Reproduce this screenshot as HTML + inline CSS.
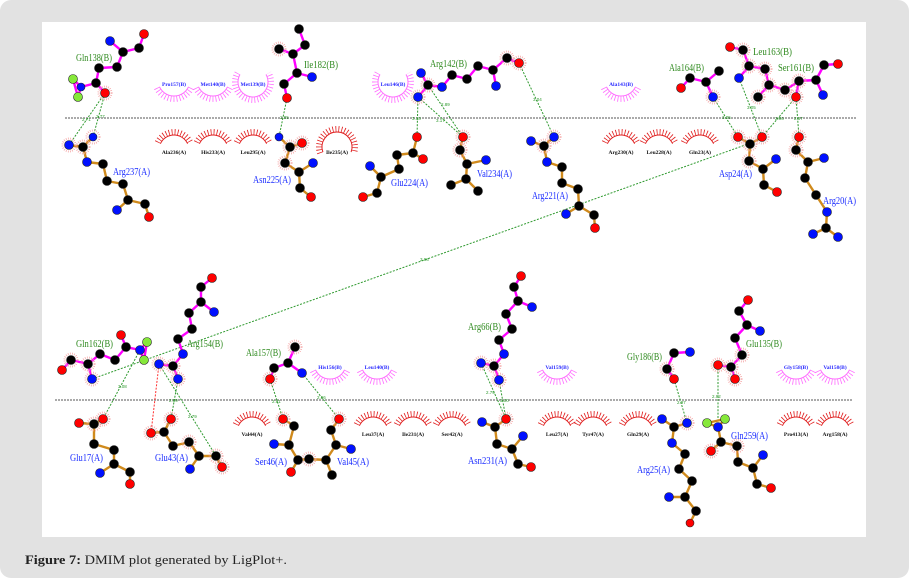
<!DOCTYPE html>
<html><head><meta charset="utf-8"><style>
html,body{margin:0;padding:0;background:#fff;}
body{width:909px;height:582px;overflow:hidden;}
svg{display:block;}
.bm{fill:none;stroke:#ff00ff;stroke-width:2.4;stroke-linejoin:round;stroke-linecap:round}
.bo{fill:none;stroke:#d08a1c;stroke-width:2.4;stroke-linejoin:round;stroke-linecap:round}
.k{fill:#000}.b{fill:#0010ff}.r{fill:#ff0000}.g{fill:#86e83a}
circle.a{stroke:#222;stroke-width:0.6}
.hb{stroke:#2f9a2f;stroke-width:1;stroke-dasharray:2 1.4;fill:none}
.hl{font-family:"Liberation Sans",sans-serif;font-size:4.5px;fill:#2f9a2f}
.lg{font-family:"Liberation Serif",serif;font-size:10px;fill:#2f8a1f}
.la{font-family:"Liberation Serif",serif;font-size:10px;fill:#1a2cff}
.sp{font-family:"Liberation Serif",serif;font-size:5.5px;font-weight:bold;fill:#2a2aff}
.sr{font-family:"Liberation Serif",serif;font-size:5.5px;font-weight:bold;fill:#111}
.halo{fill:none;stroke:#f4a2a2;stroke-width:2;stroke-dasharray:0.7 1.4}
</style></head><body>
<svg width="909" height="582" viewBox="0 0 909 582" xmlns="http://www.w3.org/2000/svg">
<defs>
<g id="pa">
<path d="M-14.5,2.8 A16 16 0 0 0 14.5,2.8" fill="none" stroke="#ff70ff" stroke-width="1"/>
<path d="M-17.2,4.0 A19 19 0 0 0 17.2,4.0" fill="none" stroke="#ff70ff" stroke-width="6" stroke-dasharray="0.8 2.2"/>
</g>
<g id="pa2">
<path d="M-13,-9.5 A15 15 0 1 0 13,-9.5" fill="none" stroke="#ff70ff" stroke-width="1"/>
<path d="M-15.6,-11 A18 18 0 1 0 15.6,-11" fill="none" stroke="#ff70ff" stroke-width="6" stroke-dasharray="0.8 2.2"/>
</g>
<g id="ra">
<path d="M-13.6,-8.3 A15 15 0 0 1 13.6,-8.3" fill="none" stroke="#e02020" stroke-width="1"/>
<path d="M-16.3,-9.6 A18 18 0 0 1 16.3,-9.6" fill="none" stroke="#e02020" stroke-width="6" stroke-dasharray="0.8 2.2"/>
</g>
<g id="ra2">
<path d="M-14.1,0.1 A15 15 0 1 1 14.1,0.1" fill="none" stroke="#e02020" stroke-width="1"/>
<path d="M-16.9,1.2 A18 18 0 1 1 16.9,1.2" fill="none" stroke="#e02020" stroke-width="6" stroke-dasharray="0.8 2.2"/>
</g>
</defs>
<rect x="0" y="0" width="909" height="578" rx="11" fill="#e2e2e2"/>
<rect x="42" y="22" width="824" height="515" fill="#fff"/>

<!-- interface lines -->
<line x1="65" y1="118" x2="857" y2="118" stroke="#555" stroke-width="1" stroke-dasharray="2 1"/>
<line x1="55" y1="400" x2="853" y2="400" stroke="#555" stroke-width="1" stroke-dasharray="2 1"/>

<!-- hydrophobic arcs -->
<use href="#pa" x="174" y="84"/><use href="#pa" x="213" y="84"/><use href="#pa2" x="253" y="84"/>
<use href="#pa2" x="393" y="84"/><use href="#pa" x="621" y="84"/>
<use href="#ra" x="174" y="152"/><use href="#ra" x="213" y="152"/><use href="#ra" x="253" y="152"/>
<use href="#ra2" x="337" y="152"/><use href="#ra" x="621" y="152"/><use href="#ra" x="659" y="152"/><use href="#ra" x="700" y="152"/>
<use href="#pa" x="330" y="367"/><use href="#pa" x="377" y="367"/><use href="#pa" x="557" y="367"/>
<use href="#pa" x="796" y="367"/><use href="#pa" x="835" y="367"/>
<use href="#ra" x="252" y="434"/><use href="#ra" x="373" y="434"/><use href="#ra" x="413" y="434"/><use href="#ra" x="452" y="434"/>
<use href="#ra" x="557" y="434"/><use href="#ra" x="593" y="434"/><use href="#ra" x="638" y="434"/>
<use href="#ra" x="796" y="434"/><use href="#ra" x="835" y="434"/>

<g text-anchor="middle">
<text class="sp" x="174" y="86">Pro157(B)</text><text class="sp" x="213" y="86">Met140(B)</text>
<text class="sp" x="253" y="86">Met139(B)</text><text class="sp" x="393" y="86">Leu146(B)</text>
<text class="sp" x="621" y="86">Ala143(B)</text>
<text class="sr" x="174" y="154">Ala236(A)</text><text class="sr" x="213" y="154">His233(A)</text>
<text class="sr" x="253" y="154">Leu295(A)</text><text class="sr" x="337" y="154">Ile235(A)</text>
<text class="sr" x="621" y="154">Arg230(A)</text><text class="sr" x="659" y="154">Leu228(A)</text>
<text class="sr" x="700" y="154">Gln23(A)</text>
<text class="sp" x="330" y="369">His156(B)</text><text class="sp" x="377" y="369">Leu140(B)</text>
<text class="sp" x="557" y="369">Val159(B)</text><text class="sp" x="796" y="369">Gly158(B)</text>
<text class="sp" x="835" y="369">Val150(B)</text>
<text class="sr" x="252" y="436">Val44(A)</text><text class="sr" x="373" y="436">Leu37(A)</text>
<text class="sr" x="413" y="436">Ile231(A)</text><text class="sr" x="452" y="436">Ser42(A)</text>
<text class="sr" x="557" y="436">Leu27(A)</text><text class="sr" x="593" y="436">Tyr47(A)</text>
<text class="sr" x="638" y="436">Gln29(A)</text><text class="sr" x="796" y="436">Pro413(A)</text>
<text class="sr" x="835" y="436">Arg158(A)</text>
</g>

<!-- hydrogen bonds -->
<g class="hb">
<line x1="105" y1="93" x2="69" y2="145"/><line x1="105" y1="93" x2="93" y2="137"/>
<line x1="287" y1="98" x2="279" y2="137"/>
<line x1="418" y1="97" x2="417" y2="137"/><line x1="418" y1="97" x2="463" y2="137"/>
<line x1="428" y1="85" x2="463" y2="137"/><line x1="519" y1="63" x2="554" y2="137"/>
<line x1="713" y1="97" x2="738" y2="137"/><line x1="739" y1="78" x2="762" y2="137"/>
<line x1="796" y1="97" x2="762" y2="137"/><line x1="796" y1="97" x2="799" y2="137"/>
<line x1="92" y1="379" x2="748" y2="144"/>
<line x1="140" y1="350" x2="103" y2="419"/><line x1="178" y1="379" x2="171" y2="419"/>
<line x1="159" y1="364" x2="216" y2="456"/>
<line x1="270" y1="379" x2="283" y2="419"/><line x1="302" y1="373" x2="339" y2="419"/>
<line x1="481" y1="363" x2="506" y2="419"/><line x1="499" y1="380" x2="506" y2="419"/>
<line x1="674" y1="379" x2="687" y2="423"/><line x1="718" y1="365" x2="718" y2="427"/>
</g>
<line x1="159" y1="364" x2="151" y2="433" stroke="#ff3030" stroke-width="1" stroke-dasharray="2 1.4"/>
<g class="hl">
<text x="82" y="121">2.71</text><text x="96" y="118">2.77</text><text x="280" y="119">2.85</text>
<text x="412" y="120">3.18</text><text x="436" y="122">3.17</text><text x="441" y="106">2.89</text>
<text x="533" y="101">3.04</text><text x="722" y="119">3.05</text><text x="747" y="109">3.05</text>
<text x="775" y="120">2.96</text><text x="794" y="120">2.87</text><text x="420" y="261">3.96</text>
<text x="118" y="388">3.08</text><text x="169" y="402">2.89</text><text x="188" y="418">2.79</text>
<text x="272" y="403">2.81</text><text x="317" y="399">2.96</text><text x="486" y="394">2.79</text>
<text x="500" y="402">3.00</text><text x="677" y="404">2.97</text><text x="712" y="398">2.92</text>
</g>

<!-- bonds -->
<path class="bm" d="M110,41 L123,52 L139,48 L144,34 M123,52 L117,67 L99,68 L96,83 L105,93 M96,83 L81,87 L73,79 L78,97 L81,87"/>
<path class="bo" d="M69,145 L83,147 L93,137 M83,147 L87,162 L103,164 L107,181 L123,184 L128,200 L117,210 M128,200 L145,204 L149,217"/>
<path class="bm" d="M299,29 L305,45 L293,54 L279,49 M293,54 L297,73 L312,77 M297,73 L284,84 L287,98"/>
<path class="bo" d="M279,137 L290,147 L302,143 M290,147 L285,163 L299,172 L313,163 M299,172 L300,188 L311,197"/>
<path class="bo" d="M417,137 L413,153 L423,159 M413,153 L397,155 L399,169 L381,177 L370,166 M381,177 L377,193 L363,197"/>
<path class="bo" d="M463,137 L460,150 L467,164 L486,160 M467,164 L466,179 L451,185 M466,179 L478,191"/>
<path class="bm" d="M421,73 L428,85 L418,97 M428,85 L442,87 L452,75 L467,79 L478,66 L493,70 L496,86 M493,70 L507,58 L519,63"/>
<path class="bo" d="M554,137 L544,146 L531,141 M544,146 L547,162 L562,167 L562,183 L578,189 L579,206 L566,214 M579,206 L594,215 L595,228"/>
<path class="bm" d="M681,88 L690,78 L706,82 L719,71 M706,82 L713,97"/>
<path class="bm" d="M730,47 L743,50 L749,66 L739,78 M749,66 L765,69 L769,85 L758,97 M769,85 L785,90 L799,81 L816,80 L824,65 L838,64 M816,80 L823,95 M799,81 L796,97"/>
<path class="bo" d="M738,137 L750,144 L762,137 M750,144 L749,161 L763,169 L776,159 M763,169 L764,185 L777,192"/>
<path class="bo" d="M799,137 L796,150 L808,162 L824,158 M808,162 L805,178 L816,195 L827,212 L826,228 L813,234 M826,228 L838,237"/>
<path class="bm" d="M212,278 L201,287 L201,302 L214,312 M201,302 L189,313 L192,329 L178,339 L183,354 L173,366 L159,364 M173,366 L178,379"/>
<path class="bm" d="M62,370 L71,360 L88,364 L92,379 M88,364 L100,354 L115,360 L126,347 L121,335 M126,347 L140,350 L147,342 L144,360 L140,350"/>
<path class="bm" d="M295,347 L288,363 L302,373 M288,363 L274,368 L270,379"/>
<path class="bo" d="M103,419 L94,424 L79,423 M94,424 L94,444 L114,450 L114,464 L100,473 M114,464 L130,472 L130,484"/>
<path class="bo" d="M171,419 L164,432 L151,433 M164,432 L173,446 L189,442 L199,456 L190,469 M199,456 L216,456 L222,467"/>
<path class="bo" d="M283,419 L294,426 L289,445 L274,444 M289,445 L298,460 L291,472 M298,460 L309,459 L326,460 L336,445 L351,449 M336,445 L331,430 L339,419 M326,460 L332,475"/>
<path class="bm" d="M521,276 L514,287 L518,301 L532,307 M518,301 L506,314 L512,329 L499,340 L504,354 L494,366 L481,363 M494,366 L499,380"/>
<path class="bo" d="M506,419 L495,427 L482,422 M495,427 L497,444 L512,449 L523,436 M512,449 L518,464 L531,467"/>
<path class="bm" d="M690,352 L674,353 L667,369 L674,379"/>
<path class="bo" d="M662,419 L674,427 L687,423 M674,427 L672,443 L685,454 L679,469 L692,481 L685,497 L669,497 M685,497 L696,511 L690,523"/>
<path class="bm" d="M748,300 L739,311 L747,325 L760,331 M747,325 L735,338 L742,355 L731,367 L718,365 M731,367 L735,379"/>
<path class="bo" d="M707,423 L725,419 L718,427 L707,423 M718,427 L721,442 L711,451 M721,442 L737,446 L738,462 L753,468 L763,455 M753,468 L757,484 L771,488"/>

<!-- hydrophobic halos -->
<g class="halo">
<circle cx="105" cy="93" r="6.5"/><circle cx="69" cy="145" r="6.5"/><circle cx="93" cy="137" r="6.5"/><circle cx="83" cy="147" r="6.5"/>
<circle cx="279" cy="49" r="6.5"/><circle cx="302" cy="143" r="6.5"/><circle cx="290" cy="147" r="6.5"/><circle cx="285" cy="163" r="6.5"/>
<circle cx="418" cy="97" r="6.5"/><circle cx="428" cy="85" r="6.5"/><circle cx="519" cy="63" r="6.5"/><circle cx="507" cy="58" r="6.5"/>
<circle cx="463" cy="137" r="6.5"/><circle cx="460" cy="150" r="6.5"/><circle cx="554" cy="137" r="6.5"/><circle cx="544" cy="146" r="6.5"/>
<circle cx="738" cy="137" r="6.5"/><circle cx="762" cy="137" r="6.5"/><circle cx="750" cy="144" r="6.5"/><circle cx="749" cy="161" r="6.5"/>
<circle cx="799" cy="137" r="6.5"/><circle cx="796" cy="150" r="6.5"/><circle cx="796" cy="97" r="6.5"/><circle cx="799" cy="81" r="6.5"/>
<circle cx="713" cy="97" r="6.5"/><circle cx="758" cy="97" r="6.5"/><circle cx="785" cy="90" r="6.5"/><circle cx="749" cy="66" r="6.5"/>
<circle cx="765" cy="69" r="6.5"/><circle cx="769" cy="85" r="6.5"/><circle cx="743" cy="50" r="6.5"/>
<circle cx="92" cy="379" r="6.5"/><circle cx="71" cy="360" r="6.5"/><circle cx="88" cy="364" r="6.5"/>
<circle cx="173" cy="366" r="6.5"/><circle cx="178" cy="379" r="6.5"/><circle cx="159" cy="364" r="6.5"/>
<circle cx="270" cy="379" r="6.5"/><circle cx="295" cy="347" r="6.5"/>
<circle cx="103" cy="419" r="6.5"/><circle cx="94" cy="424" r="6.5"/>
<circle cx="171" cy="419" r="6.5"/><circle cx="151" cy="433" r="6.5"/><circle cx="189" cy="442" r="6.5"/><circle cx="216" cy="456" r="6.5"/><circle cx="222" cy="467" r="6.5"/>
<circle cx="283" cy="419" r="6.5"/><circle cx="339" cy="419" r="6.5"/><circle cx="309" cy="459" r="6.5"/>
<circle cx="481" cy="363" r="6.5"/><circle cx="494" cy="366" r="6.5"/><circle cx="499" cy="380" r="6.5"/><circle cx="506" cy="419" r="6.5"/>
<circle cx="667" cy="369" r="6.5"/><circle cx="718" cy="365" r="6.5"/><circle cx="731" cy="367" r="6.5"/><circle cx="735" cy="379" r="6.5"/><circle cx="742" cy="355" r="6.5"/>
<circle cx="687" cy="423" r="6.5"/><circle cx="711" cy="451" r="6.5"/><circle cx="737" cy="446" r="6.5"/>
</g>

<!-- atoms -->
<g>
<!-- Gln138 -->
<circle class="a b" cx="110" cy="41" r="4.5"/><circle class="a k" cx="123" cy="52" r="4.5"/><circle class="a k" cx="139" cy="48" r="4.5"/>
<circle class="a r" cx="144" cy="34" r="4.5"/><circle class="a k" cx="117" cy="67" r="4.5"/><circle class="a k" cx="99" cy="68" r="4.5"/>
<circle class="a k" cx="96" cy="83" r="4.5"/><circle class="a r" cx="105" cy="93" r="4.5"/><circle class="a b" cx="81" cy="87" r="4"/>
<circle class="a g" cx="73" cy="79" r="4.5"/><circle class="a g" cx="78" cy="97" r="4.5"/>
<!-- Arg237 -->
<circle class="a b" cx="69" cy="145" r="4.5"/><circle class="a k" cx="83" cy="147" r="4.5"/><circle class="a b" cx="93" cy="137" r="4"/>
<circle class="a b" cx="87" cy="162" r="4.5"/><circle class="a k" cx="103" cy="164" r="4.5"/><circle class="a k" cx="107" cy="181" r="4.5"/>
<circle class="a k" cx="123" cy="184" r="4.5"/><circle class="a k" cx="128" cy="200" r="4.5"/><circle class="a b" cx="117" cy="210" r="4.5"/>
<circle class="a k" cx="145" cy="204" r="4.5"/><circle class="a r" cx="149" cy="217" r="4.5"/>
<!-- Ile182 -->
<circle class="a k" cx="299" cy="29" r="4.5"/><circle class="a k" cx="305" cy="45" r="4.5"/><circle class="a k" cx="293" cy="54" r="4.5"/>
<circle class="a k" cx="279" cy="49" r="4.5"/><circle class="a k" cx="297" cy="73" r="4.5"/><circle class="a b" cx="312" cy="77" r="4.5"/>
<circle class="a k" cx="284" cy="84" r="4.5"/><circle class="a r" cx="287" cy="98" r="4.5"/>
<!-- Asn225 -->
<circle class="a b" cx="279" cy="137" r="4"/><circle class="a k" cx="290" cy="147" r="4.5"/><circle class="a r" cx="302" cy="143" r="4.5"/>
<circle class="a k" cx="285" cy="163" r="4.5"/><circle class="a k" cx="299" cy="172" r="4.5"/><circle class="a b" cx="313" cy="163" r="4.5"/>
<circle class="a k" cx="300" cy="188" r="4.5"/><circle class="a r" cx="311" cy="197" r="4.5"/>
<!-- Glu224 -->
<circle class="a r" cx="417" cy="137" r="4.5"/><circle class="a k" cx="413" cy="153" r="4.5"/><circle class="a r" cx="423" cy="159" r="4.5"/>
<circle class="a k" cx="397" cy="155" r="4.5"/><circle class="a k" cx="399" cy="169" r="4.5"/><circle class="a k" cx="381" cy="177" r="4.5"/>
<circle class="a b" cx="370" cy="166" r="4.5"/><circle class="a k" cx="377" cy="193" r="4.5"/><circle class="a r" cx="363" cy="197" r="4.5"/>
<!-- Val234 -->
<circle class="a r" cx="463" cy="137" r="4.5"/><circle class="a k" cx="460" cy="150" r="4.5"/><circle class="a k" cx="467" cy="164" r="4.5"/>
<circle class="a b" cx="486" cy="160" r="4.5"/><circle class="a k" cx="466" cy="179" r="4.5"/><circle class="a k" cx="451" cy="185" r="4.5"/>
<circle class="a k" cx="478" cy="191" r="4.5"/>
<!-- Arg142 -->
<circle class="a b" cx="421" cy="73" r="4.5"/><circle class="a k" cx="428" cy="85" r="4.5"/><circle class="a b" cx="418" cy="97" r="4.5"/>
<circle class="a b" cx="442" cy="87" r="4.5"/><circle class="a k" cx="452" cy="75" r="4.5"/><circle class="a k" cx="467" cy="79" r="4.5"/>
<circle class="a k" cx="478" cy="66" r="4.5"/><circle class="a k" cx="493" cy="70" r="4.5"/><circle class="a b" cx="496" cy="86" r="4.5"/>
<circle class="a k" cx="507" cy="58" r="4.5"/><circle class="a r" cx="519" cy="63" r="4.5"/>
<!-- Arg221 -->
<circle class="a b" cx="554" cy="137" r="4.5"/><circle class="a k" cx="544" cy="146" r="4.5"/><circle class="a b" cx="531" cy="141" r="4.5"/>
<circle class="a b" cx="547" cy="162" r="4.5"/><circle class="a k" cx="562" cy="167" r="4.5"/><circle class="a k" cx="562" cy="183" r="4.5"/>
<circle class="a k" cx="578" cy="189" r="4.5"/><circle class="a k" cx="579" cy="206" r="4.5"/><circle class="a b" cx="566" cy="214" r="4.5"/>
<circle class="a k" cx="594" cy="215" r="4.5"/><circle class="a r" cx="595" cy="228" r="4.5"/>
<!-- Ala164 -->
<circle class="a r" cx="681" cy="88" r="4.5"/><circle class="a k" cx="690" cy="78" r="4.5"/><circle class="a k" cx="706" cy="82" r="4.5"/>
<circle class="a k" cx="719" cy="71" r="4.5"/><circle class="a b" cx="713" cy="97" r="4.5"/>
<!-- Leu163 / Ser161 -->
<circle class="a r" cx="730" cy="47" r="4.5"/><circle class="a k" cx="743" cy="50" r="4.5"/><circle class="a k" cx="749" cy="66" r="4.5"/>
<circle class="a b" cx="739" cy="78" r="4.5"/><circle class="a k" cx="765" cy="69" r="4.5"/><circle class="a k" cx="769" cy="85" r="4.5"/>
<circle class="a k" cx="758" cy="97" r="4.5"/><circle class="a k" cx="785" cy="90" r="4.5"/><circle class="a k" cx="799" cy="81" r="4.5"/>
<circle class="a k" cx="816" cy="80" r="4.5"/><circle class="a k" cx="824" cy="65" r="4.5"/><circle class="a r" cx="838" cy="64" r="4.5"/>
<circle class="a b" cx="823" cy="95" r="4.5"/><circle class="a r" cx="796" cy="97" r="4.5"/>
<!-- Asp24 -->
<circle class="a r" cx="738" cy="137" r="4.5"/><circle class="a r" cx="762" cy="137" r="4.5"/><circle class="a k" cx="750" cy="144" r="4.5"/>
<circle class="a k" cx="749" cy="161" r="4.5"/><circle class="a k" cx="763" cy="169" r="4.5"/><circle class="a b" cx="776" cy="159" r="4.5"/>
<circle class="a k" cx="764" cy="185" r="4.5"/><circle class="a r" cx="777" cy="192" r="4.5"/>
<!-- Arg20 -->
<circle class="a r" cx="799" cy="137" r="4.5"/><circle class="a k" cx="796" cy="150" r="4.5"/><circle class="a k" cx="808" cy="162" r="4.5"/>
<circle class="a b" cx="824" cy="158" r="4.5"/><circle class="a k" cx="805" cy="178" r="4.5"/><circle class="a k" cx="816" cy="195" r="4.5"/>
<circle class="a b" cx="827" cy="212" r="4.5"/><circle class="a k" cx="826" cy="228" r="4.5"/><circle class="a b" cx="813" cy="234" r="4.5"/>
<circle class="a b" cx="838" cy="237" r="4.5"/>
<!-- Arg154 -->
<circle class="a r" cx="212" cy="278" r="4.5"/><circle class="a k" cx="201" cy="287" r="4.5"/><circle class="a k" cx="201" cy="302" r="4.5"/>
<circle class="a b" cx="214" cy="312" r="4.5"/><circle class="a k" cx="189" cy="313" r="4.5"/><circle class="a k" cx="192" cy="329" r="4.5"/>
<circle class="a k" cx="178" cy="339" r="4.5"/><circle class="a b" cx="183" cy="354" r="4.5"/><circle class="a k" cx="173" cy="366" r="4.5"/>
<circle class="a b" cx="159" cy="364" r="4.5"/><circle class="a b" cx="178" cy="379" r="4.5"/>
<!-- Gln162 -->
<circle class="a r" cx="62" cy="370" r="4.5"/><circle class="a k" cx="71" cy="360" r="4.5"/><circle class="a k" cx="88" cy="364" r="4.5"/>
<circle class="a b" cx="92" cy="379" r="4.5"/><circle class="a k" cx="100" cy="354" r="4.5"/><circle class="a k" cx="115" cy="360" r="4.5"/>
<circle class="a k" cx="126" cy="347" r="4.5"/><circle class="a r" cx="121" cy="335" r="4.5"/><circle class="a b" cx="140" cy="350" r="4.5"/>
<circle class="a g" cx="147" cy="342" r="4.5"/><circle class="a g" cx="144" cy="360" r="4.5"/>
<!-- Ala157 -->
<circle class="a k" cx="295" cy="347" r="4.5"/><circle class="a k" cx="288" cy="363" r="4.5"/><circle class="a b" cx="302" cy="373" r="4.5"/>
<circle class="a k" cx="274" cy="368" r="4.5"/><circle class="a r" cx="270" cy="379" r="4.5"/>
<!-- Glu17 -->
<circle class="a r" cx="103" cy="419" r="4.5"/><circle class="a k" cx="94" cy="424" r="4.5"/><circle class="a r" cx="79" cy="423" r="4.5"/>
<circle class="a k" cx="94" cy="444" r="4.5"/><circle class="a k" cx="114" cy="450" r="4.5"/><circle class="a k" cx="114" cy="464" r="4.5"/>
<circle class="a b" cx="100" cy="473" r="4.5"/><circle class="a k" cx="130" cy="472" r="4.5"/><circle class="a r" cx="130" cy="484" r="4.5"/>
<!-- Glu43 -->
<circle class="a r" cx="171" cy="419" r="4.5"/><circle class="a k" cx="164" cy="432" r="4.5"/><circle class="a r" cx="151" cy="433" r="4.5"/>
<circle class="a k" cx="173" cy="446" r="4.5"/><circle class="a k" cx="189" cy="442" r="4.5"/><circle class="a k" cx="199" cy="456" r="4.5"/>
<circle class="a b" cx="190" cy="469" r="4.5"/><circle class="a k" cx="216" cy="456" r="4.5"/><circle class="a r" cx="222" cy="467" r="4.5"/>
<!-- Ser46 / Val45 -->
<circle class="a r" cx="283" cy="419" r="4.5"/><circle class="a k" cx="294" cy="426" r="4.5"/><circle class="a k" cx="289" cy="445" r="4.5"/>
<circle class="a b" cx="274" cy="444" r="4.5"/><circle class="a k" cx="298" cy="460" r="4.5"/><circle class="a r" cx="291" cy="472" r="4.5"/>
<circle class="a k" cx="309" cy="459" r="4.5"/><circle class="a k" cx="326" cy="460" r="4.5"/><circle class="a k" cx="336" cy="445" r="4.5"/>
<circle class="a b" cx="351" cy="449" r="4.5"/><circle class="a k" cx="331" cy="430" r="4.5"/><circle class="a r" cx="339" cy="419" r="4.5"/>
<circle class="a k" cx="332" cy="475" r="4.5"/>
<!-- Arg66 -->
<circle class="a r" cx="521" cy="276" r="4.5"/><circle class="a k" cx="514" cy="287" r="4.5"/><circle class="a k" cx="518" cy="301" r="4.5"/>
<circle class="a b" cx="532" cy="307" r="4.5"/><circle class="a k" cx="506" cy="314" r="4.5"/><circle class="a k" cx="512" cy="329" r="4.5"/>
<circle class="a k" cx="499" cy="340" r="4.5"/><circle class="a b" cx="504" cy="354" r="4.5"/><circle class="a k" cx="494" cy="366" r="4.5"/>
<circle class="a b" cx="481" cy="363" r="4.5"/><circle class="a b" cx="499" cy="380" r="4.5"/>
<!-- Asn231 -->
<circle class="a r" cx="506" cy="419" r="4.5"/><circle class="a k" cx="495" cy="427" r="4.5"/><circle class="a b" cx="482" cy="422" r="4.5"/>
<circle class="a k" cx="497" cy="444" r="4.5"/><circle class="a k" cx="512" cy="449" r="4.5"/><circle class="a b" cx="523" cy="436" r="4.5"/>
<circle class="a k" cx="518" cy="464" r="4.5"/><circle class="a r" cx="531" cy="467" r="4.5"/>
<!-- Gly186 -->
<circle class="a b" cx="690" cy="352" r="4.5"/><circle class="a k" cx="674" cy="353" r="4.5"/><circle class="a k" cx="667" cy="369" r="4.5"/>
<circle class="a r" cx="674" cy="379" r="4.5"/>
<!-- Arg25 -->
<circle class="a b" cx="662" cy="419" r="4.5"/><circle class="a k" cx="674" cy="427" r="4.5"/><circle class="a b" cx="687" cy="423" r="4.5"/>
<circle class="a b" cx="672" cy="443" r="4.5"/><circle class="a k" cx="685" cy="454" r="4.5"/><circle class="a k" cx="679" cy="469" r="4.5"/>
<circle class="a k" cx="692" cy="481" r="4.5"/><circle class="a k" cx="685" cy="497" r="4.5"/><circle class="a b" cx="669" cy="497" r="4.5"/>
<circle class="a k" cx="696" cy="511" r="4.5"/><circle class="a r" cx="690" cy="523" r="4"/>
<!-- Glu135 -->
<circle class="a r" cx="748" cy="300" r="4.5"/><circle class="a k" cx="739" cy="311" r="4.5"/><circle class="a k" cx="747" cy="325" r="4.5"/>
<circle class="a b" cx="760" cy="331" r="4.5"/><circle class="a k" cx="735" cy="338" r="4.5"/><circle class="a k" cx="742" cy="355" r="4.5"/>
<circle class="a k" cx="731" cy="367" r="4.5"/><circle class="a r" cx="718" cy="365" r="4.5"/><circle class="a r" cx="735" cy="379" r="4.5"/>
<!-- Gln259 -->
<circle class="a g" cx="707" cy="423" r="4.5"/><circle class="a g" cx="725" cy="419" r="4.5"/><circle class="a b" cx="718" cy="427" r="4.5"/>
<circle class="a k" cx="721" cy="442" r="4.5"/><circle class="a r" cx="711" cy="451" r="4.5"/><circle class="a k" cx="737" cy="446" r="4.5"/>
<circle class="a k" cx="738" cy="462" r="4.5"/><circle class="a k" cx="753" cy="468" r="4.5"/><circle class="a b" cx="763" cy="455" r="4.5"/>
<circle class="a k" cx="757" cy="484" r="4.5"/><circle class="a r" cx="771" cy="488" r="4.5"/>
</g>

<!-- residue labels -->
<g class="lg">
<text x="76" y="61" textLength="36" lengthAdjust="spacingAndGlyphs">Gln138(B)</text>
<text x="304" y="68" textLength="34" lengthAdjust="spacingAndGlyphs">Ile182(B)</text>
<text x="430" y="67" textLength="37" lengthAdjust="spacingAndGlyphs">Arg142(B)</text>
<text x="669" y="71" textLength="35" lengthAdjust="spacingAndGlyphs">Ala164(B)</text>
<text x="753" y="55" textLength="39" lengthAdjust="spacingAndGlyphs">Leu163(B)</text>
<text x="778" y="71" textLength="36" lengthAdjust="spacingAndGlyphs">Ser161(B)</text>
<text x="76" y="347" textLength="37" lengthAdjust="spacingAndGlyphs">Gln162(B)</text>
<text x="187" y="347" textLength="36" lengthAdjust="spacingAndGlyphs">Arg154(B)</text>
<text x="246" y="356" textLength="35" lengthAdjust="spacingAndGlyphs">Ala157(B)</text>
<text x="468" y="330" textLength="33" lengthAdjust="spacingAndGlyphs">Arg66(B)</text>
<text x="627" y="360" textLength="35" lengthAdjust="spacingAndGlyphs">Gly186(B)</text>
<text x="746" y="347" textLength="36" lengthAdjust="spacingAndGlyphs">Glu135(B)</text>
</g>
<g class="la">
<text x="113" y="175" textLength="37" lengthAdjust="spacingAndGlyphs">Arg237(A)</text>
<text x="253" y="183" textLength="38" lengthAdjust="spacingAndGlyphs">Asn225(A)</text>
<text x="391" y="186" textLength="37" lengthAdjust="spacingAndGlyphs">Glu224(A)</text>
<text x="477" y="177" textLength="35" lengthAdjust="spacingAndGlyphs">Val234(A)</text>
<text x="532" y="199" textLength="36" lengthAdjust="spacingAndGlyphs">Arg221(A)</text>
<text x="719" y="177" textLength="33" lengthAdjust="spacingAndGlyphs">Asp24(A)</text>
<text x="823" y="204" textLength="33" lengthAdjust="spacingAndGlyphs">Arg20(A)</text>
<text x="70" y="461" textLength="33" lengthAdjust="spacingAndGlyphs">Glu17(A)</text>
<text x="155" y="461" textLength="33" lengthAdjust="spacingAndGlyphs">Glu43(A)</text>
<text x="255" y="465" textLength="32" lengthAdjust="spacingAndGlyphs">Ser46(A)</text>
<text x="337" y="465" textLength="32" lengthAdjust="spacingAndGlyphs">Val45(A)</text>
<text x="468" y="464" textLength="39" lengthAdjust="spacingAndGlyphs">Asn231(A)</text>
<text x="637" y="473" textLength="33" lengthAdjust="spacingAndGlyphs">Arg25(A)</text>
<text x="731" y="439" textLength="37" lengthAdjust="spacingAndGlyphs">Gln259(A)</text>
</g>

<!-- caption -->
<text x="25" y="564" font-family="'Liberation Serif',serif" font-size="13" fill="#222" textLength="262" lengthAdjust="spacingAndGlyphs"><tspan font-weight="bold">Figure 7:</tspan> DMIM plot generated by LigPlot+.</text>
</svg>
</body></html>
